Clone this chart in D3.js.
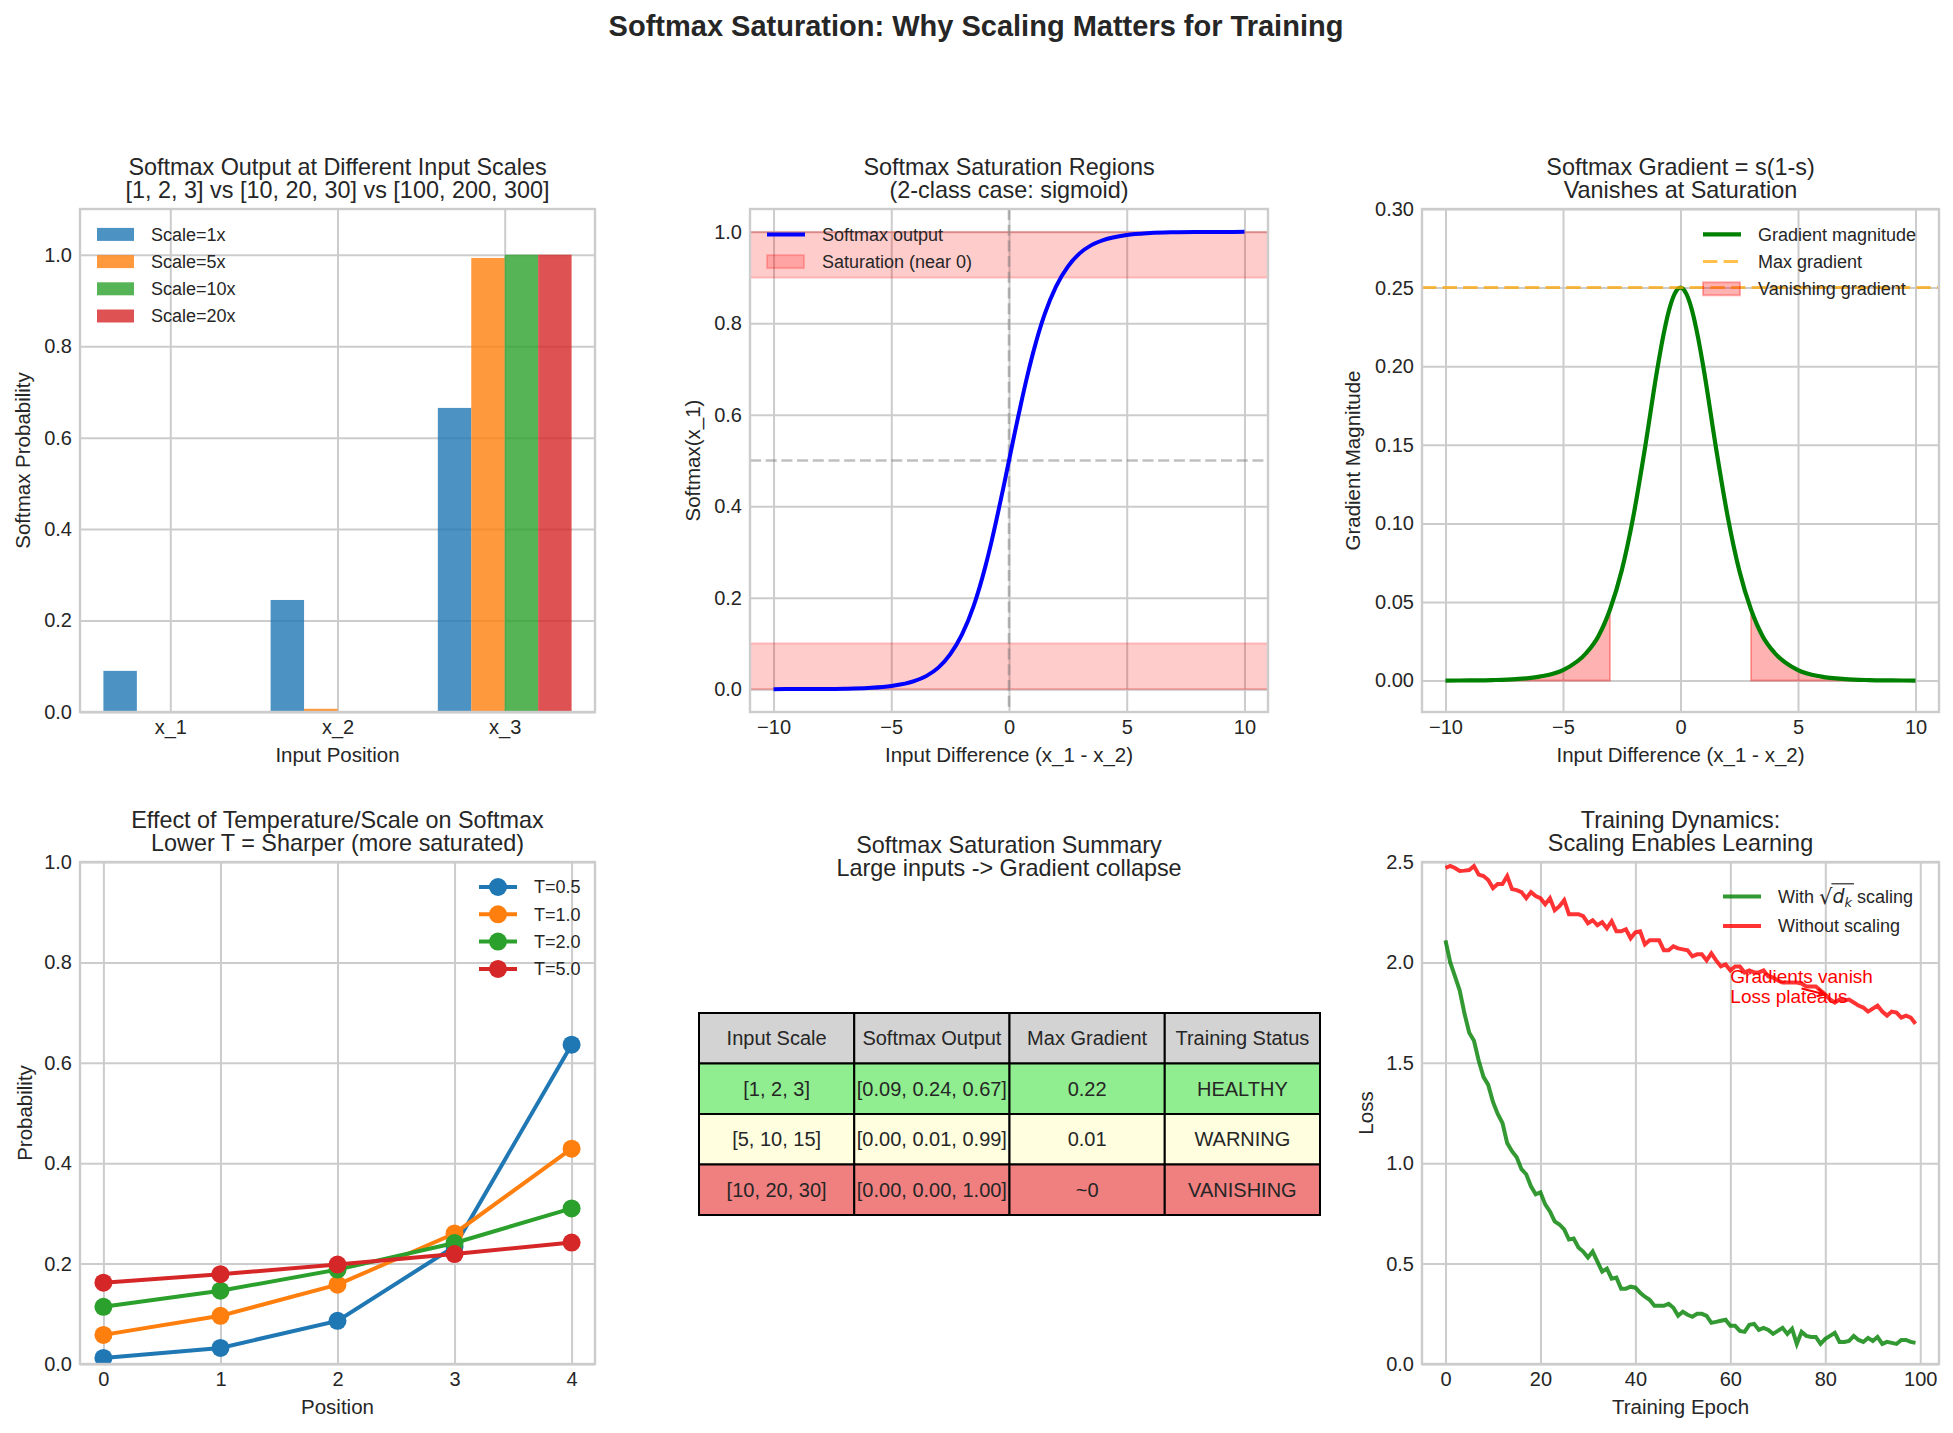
<!DOCTYPE html>
<html>
<head>
<meta charset="utf-8">
<script src="https://cdn.jsdelivr.net/npm/d3@7"></script>
<style>
  body { margin: 0; background: #fff; }
  svg text { font-family: 'Liberation Sans', Arial, sans-serif; fill: #262626; }
</style>
</head>
<body>
<script>
// ---- data ----
const positions = ['x_1', 'x_2', 'x_3']
const scaleNames = ['Scale=1x', 'Scale=5x', 'Scale=10x', 'Scale=20x']
const scaleProbs = [
  [0.090, 0.245, 0.665],
  [0.000, 0.007, 0.993],
  [0.000, 0.000, 1.000],
  [0.000, 0.000, 1.000]
]

const diffX = [-10, -9, -8, -7, -6, -5, -4, -3.5, -3, -2.5, -2, -1.5, -1, -0.75, -0.5, -0.25, 0,
  0.25, 0.5, 0.75, 1, 1.5, 2, 2.5, 3, 3.5, 4, 5, 6, 7, 8, 9, 10]
const sigmoidY = [0.0000, 0.0001, 0.0003, 0.0009, 0.0025, 0.0067, 0.018, 0.029, 0.047, 0.076, 0.119, 0.182,
  0.269, 0.321, 0.378, 0.438, 0.5, 0.562, 0.622, 0.679, 0.731, 0.818, 0.881, 0.924, 0.953, 0.971, 0.982,
  0.9933, 0.9975, 0.9991, 0.9997, 0.9999, 1.0]
const gradY = [0.0000, 0.0001, 0.0003, 0.0009, 0.0025, 0.0066, 0.0177, 0.0281, 0.0452, 0.0701, 0.105, 0.149,
  0.197, 0.218, 0.235, 0.246, 0.25, 0.246, 0.235, 0.218, 0.197, 0.149, 0.105, 0.0701, 0.0452, 0.0281, 0.0177,
  0.0066, 0.0025, 0.0009, 0.0003, 0.0001, 0.0000]
const maxGradient = 0.25
const vanishAt = 3

const tempPositions = [0, 1, 2, 3, 4]
const tempNames = ['T=0.5', 'T=1.0', 'T=2.0', 'T=5.0']
const tempProbs = [
  [0.012, 0.032, 0.086, 0.234, 0.636],
  [0.058, 0.096, 0.158, 0.260, 0.429],
  [0.114, 0.146, 0.188, 0.241, 0.310],
  [0.162, 0.179, 0.198, 0.219, 0.242]
]

const tableHeader = ['Input Scale', 'Softmax Output', 'Max Gradient', 'Training Status']
const tableRows = [
  ['[1, 2, 3]', '[0.09, 0.24, 0.67]', '0.22', 'HEALTHY'],
  ['[5, 10, 15]', '[0.00, 0.01, 0.99]', '0.01', 'WARNING'],
  ['[10, 20, 30]', '[0.00, 0.00, 1.00]', '~0', 'VANISHING']
]

const lossScaled = [2.11, 2.00, 1.93, 1.86, 1.745, 1.65, 1.61, 1.51, 1.43, 1.39,
  1.305, 1.245, 1.20, 1.10, 1.06, 1.03, 0.97, 0.945, 0.885, 0.845,
  0.855, 0.795, 0.76, 0.71, 0.695, 0.67, 0.62, 0.625, 0.58, 0.56,
  0.53, 0.56, 0.51, 0.46, 0.475, 0.425, 0.43, 0.375, 0.375, 0.385,
  0.38, 0.355, 0.335, 0.32, 0.29, 0.29, 0.29, 0.30, 0.28, 0.24,
  0.26, 0.245, 0.235, 0.25, 0.25, 0.24, 0.205, 0.21, 0.215, 0.22,
  0.19, 0.19, 0.165, 0.16, 0.195, 0.20, 0.17, 0.18, 0.17, 0.15,
  0.165, 0.18, 0.15, 0.175, 0.10, 0.16, 0.14, 0.135, 0.135, 0.10,
  0.125, 0.14, 0.155, 0.11, 0.11, 0.115, 0.14, 0.12, 0.11, 0.13,
  0.115, 0.135, 0.10, 0.11, 0.105, 0.10, 0.12, 0.12, 0.11, 0.105]
const lossUnscaled = [2.47, 2.48, 2.47, 2.455, 2.457, 2.46, 2.48, 2.437, 2.43, 2.41,
  2.37, 2.39, 2.39, 2.43, 2.365, 2.36, 2.35, 2.32, 2.35, 2.33,
  2.32, 2.29, 2.32, 2.26, 2.28, 2.31, 2.24, 2.24, 2.24, 2.23,
  2.195, 2.21, 2.185, 2.20, 2.17, 2.205, 2.155, 2.155, 2.165, 2.12,
  2.15, 2.155, 2.09, 2.11, 2.11, 2.11, 2.06, 2.06, 2.08, 2.07,
  2.065, 2.06, 2.03, 2.04, 2.04, 2.01, 2.045, 2.01, 1.98, 1.99,
  1.96, 1.98, 1.98, 1.95, 1.96, 1.95, 1.95, 1.96, 1.93, 1.925,
  1.91, 1.90, 1.90, 1.90, 1.90, 1.895, 1.88, 1.88, 1.88, 1.86,
  1.84, 1.815, 1.80, 1.815, 1.81, 1.815, 1.80, 1.785, 1.775, 1.755,
  1.77, 1.785, 1.755, 1.735, 1.755, 1.75, 1.725, 1.735, 1.725, 1.695]

// tick labels
const probTicks = [0, 0.2, 0.4, 0.6, 0.8, 1.0]
const diffTicks = [-10, -5, 0, 5, 10]
const gradTicks = [0, 0.05, 0.10, 0.15, 0.20, 0.25, 0.30]
const epochTicks = [0, 20, 40, 60, 80, 100]
const lossTicks = [0, 0.5, 1.0, 1.5, 2.0, 2.5]

// ---- styles ----
const tab = ['#1f77b4', '#ff7f0e', '#2ca02c', '#d62728']
const rowFills = ['#d3d3d3', '#90ee90', '#ffffe0', '#f08080']
const TICK = 20, LABEL = 20.5, LEG = 18

const svg = d3.select('body').append('svg').attr('width', 1953).attr('height', 1433)
const defs = svg.append('defs')

svg.append('text').attr('x', 976).attr('y', 36).attr('text-anchor', 'middle')
  .attr('font-size', 29).attr('font-weight', 'bold')
  .text('Softmax Saturation: Why Scaling Matters for Training')

let clipN = 0
function makePanel(o) {
  let x = d3.scaleLinear().domain(o.xDomain).range([o.left, o.right])
  let y = d3.scaleLinear().domain(o.yDomain).range([o.bottom, o.top])
  let w = o.right - o.left, h = o.bottom - o.top
  let g = svg.append('g')

  let xa = g.append('g').attr('transform', `translate(0,${o.bottom})`)
    .call(d3.axisBottom(x).tickValues(o.xTicks).tickFormat(o.xFormat).tickSize(-h).tickPadding(8))
  let ya = g.append('g').attr('transform', `translate(${o.left},0)`)
    .call(d3.axisLeft(y).tickValues(o.yTicks).tickFormat(o.yFormat).tickSize(-w).tickPadding(8))
  for (let a of [xa, ya]) {
    a.attr('font-family', null).attr('font-size', TICK).attr('color', '#262626')
    a.select('.domain').remove()
    a.selectAll('.tick line').attr('stroke', '#cccccc').attr('stroke-width', 2)
  }

  o.title.forEach((t, i) => {
    g.append('text').attr('x', (o.left + o.right) / 2).attr('y', o.titleY + i * 23.3)
      .attr('text-anchor', 'middle').attr('font-size', 23.4).text(t)
  })
  g.append('text').attr('x', (o.left + o.right) / 2).attr('y', o.bottom + 50)
    .attr('text-anchor', 'middle').attr('font-size', LABEL).text(o.xLabel)
  g.append('text')
    .attr('transform', `translate(${o.left - o.yGap},${(o.top + o.bottom) / 2}) rotate(-90)`)
    .attr('text-anchor', 'middle').attr('font-size', LABEL).text(o.yLabel)

  let id = 'clip' + (clipN++)
  defs.append('clipPath').attr('id', id).append('rect')
    .attr('x', o.left).attr('y', o.top).attr('width', w).attr('height', h)
  let plot = g.append('g').attr('clip-path', `url(#${id})`)
  g.append('rect').attr('x', o.left).attr('y', o.top).attr('width', w).attr('height', h)
    .attr('fill', 'none').attr('stroke', '#cccccc').attr('stroke-width', 2.4)
  let legend = g.append('g').attr('font-size', LEG)
  return {x, y, plot, legend}
}

// items: {label, type: 'line'|'patch', color, width, dash, marker, opacity}
function drawLegend(layer, items, x0, y0, step, textGap) {
  items.forEach((it, i) => {
    let cy = y0 + i * step
    if (it.type === 'patch') {
      layer.append('rect').attr('x', x0).attr('y', cy - 6.5).attr('width', 37).attr('height', 13)
        .attr('fill', it.color).attr('fill-opacity', it.opacity)
        .attr('stroke', it.noEdge ? 'none' : it.color).attr('stroke-opacity', it.opacity).attr('stroke-width', 2)
    } else {
      layer.append('line').attr('x1', x0).attr('x2', x0 + 38).attr('y1', cy).attr('y2', cy)
        .attr('stroke', it.color).attr('stroke-width', it.width).attr('stroke-opacity', it.opacity || 1)
        .attr('stroke-dasharray', it.dash || null)
      if (it.marker) layer.append('circle').attr('cx', x0 + 19).attr('cy', cy).attr('r', 9).attr('fill', it.color)
    }
    if (it.label) layer.append('text').attr('x', x0 + textGap).attr('y', cy).attr('dy', '0.35em').text(it.label)
  })
}

const row1 = {top: 209, bottom: 712}, row2 = {top: 862, bottom: 1364}
const col1 = {left: 80, right: 595}, col2 = {left: 750, right: 1268}, col3 = {left: 1422, right: 1939}

// ---- 1. bar chart ----
{
  let p = makePanel({...col1, ...row1, xDomain: [-0.54, 2.54], yDomain: [0, 1.1],
    xTicks: [0, 1, 2], xFormat: i => positions[i], yTicks: probTicks, yFormat: d3.format('.1f'),
    title: ['Softmax Output at Different Input Scales', '[1, 2, 3] vs [10, 20, 30] vs [100, 200, 300]'],
    titleY: 175, xLabel: 'Input Position', yLabel: 'Softmax Probability', yGap: 50})
  let bw = 0.2
  scaleProbs.forEach((vals, k) => {
    p.plot.append('g').selectAll('rect').data(vals).join('rect')
      .attr('x', (d, i) => p.x(i + (k - 1.5) * bw - bw / 2))
      .attr('width', (d, i) => p.x(i + (k - 1.5) * bw + bw / 2) - p.x(i + (k - 1.5) * bw - bw / 2))
      .attr('y', d => p.y(d))
      .attr('height', d => p.y(0) - p.y(d))
      .attr('fill', tab[k]).attr('fill-opacity', 0.8)
  })
  drawLegend(p.legend, scaleNames.map((s, k) => ({label: s, type: 'patch', color: tab[k], opacity: 0.8, noEdge: true})),
    col1.left + 17, 234.4, 27.2, 54)
}

// ---- 2. sigmoid ----
{
  let p = makePanel({...col2, ...row1, xDomain: [-11, 11], yDomain: [-0.05, 1.05],
    xTicks: diffTicks, xFormat: d3.format('d'), yTicks: probTicks, yFormat: d3.format('.1f'),
    title: ['Softmax Saturation Regions', '(2-class case: sigmoid)'],
    titleY: 175, xLabel: 'Input Difference (x_1 - x_2)', yLabel: 'Softmax(x_1)', yGap: 50})
  for (let band of [[0.9, 1.0], [0, 0.1]]) {
    p.plot.append('rect').attr('x', col2.left).attr('width', col2.right - col2.left)
      .attr('y', p.y(band[1])).attr('height', p.y(band[0]) - p.y(band[1]))
      .attr('fill', 'red').attr('fill-opacity', 0.2)
      .attr('stroke', 'red').attr('stroke-opacity', 0.2).attr('stroke-width', 2)
  }
  p.plot.append('line').attr('x1', p.x(0)).attr('x2', p.x(0)).attr('y1', row1.top).attr('y2', row1.bottom)
    .attr('stroke', 'gray').attr('stroke-opacity', 0.5).attr('stroke-width', 2.6).attr('stroke-dasharray', '11 4.7')
  p.plot.append('line').attr('x1', col2.left).attr('x2', col2.right).attr('y1', p.y(0.5)).attr('y2', p.y(0.5))
    .attr('stroke', 'gray').attr('stroke-opacity', 0.5).attr('stroke-width', 2.6).attr('stroke-dasharray', '11 4.7')
  let line = d3.line().x((d, i) => p.x(diffX[i])).y(d => p.y(d)).curve(d3.curveMonotoneX)
  p.plot.append('path').attr('d', line(sigmoidY)).attr('fill', 'none')
    .attr('stroke', 'blue').attr('stroke-width', 4)
  drawLegend(p.legend, [
    {label: 'Softmax output', type: 'line', color: 'blue', width: 4},
    {label: 'Saturation (near 0)', type: 'patch', color: 'red', opacity: 0.2}
  ], col2.left + 17, 234.4, 27.2, 55)
}

// ---- 3. gradient ----
{
  let p = makePanel({...col3, ...row1, xDomain: [-11, 11], yDomain: [-0.02, 0.3],
    xTicks: diffTicks, xFormat: d3.format('d'), yTicks: gradTicks, yFormat: d3.format('.2f'),
    title: ['Softmax Gradient = s(1-s)', 'Vanishes at Saturation'],
    titleY: 175, xLabel: 'Input Difference (x_1 - x_2)', yLabel: 'Gradient Magnitude', yGap: 62})
  let pts = diffX.map((xv, i) => ({x: xv, g: gradY[i]}))
  let area = d3.area().x(d => p.x(d.x)).y0(p.y(0)).y1(d => p.y(d.g)).curve(d3.curveMonotoneX)
  for (let part of [pts.filter(d => d.x <= -vanishAt), pts.filter(d => d.x >= vanishAt)]) {
    p.plot.append('path').attr('d', area(part) + 'Z')
      .attr('fill', 'red').attr('fill-opacity', 0.3)
      .attr('stroke', 'red').attr('stroke-opacity', 0.3).attr('stroke-width', 2)
  }
  let line = d3.line().x(d => p.x(d.x)).y(d => p.y(d.g)).curve(d3.curveMonotoneX)
  p.plot.append('path').attr('d', line(pts)).attr('fill', 'none')
    .attr('stroke', 'green').attr('stroke-width', 4.2)
  p.plot.append('line').attr('x1', col3.left).attr('x2', col3.right)
    .attr('y1', p.y(maxGradient)).attr('y2', p.y(maxGradient))
    .attr('stroke', 'orange').attr('stroke-opacity', 0.7).attr('stroke-width', 3).attr('stroke-dasharray', '14.4 6.2')
  drawLegend(p.legend, [
    {label: 'Gradient magnitude', type: 'line', color: 'green', width: 4.2},
    {label: 'Max gradient', type: 'line', color: 'orange', width: 3, opacity: 0.7, dash: '14.4 6.2'},
    {label: 'Vanishing gradient', type: 'patch', color: 'red', opacity: 0.3}
  ], 1703, 234.4, 27.2, 55)
}

// ---- 4. temperature ----
{
  let p = makePanel({...col1, ...row2, xDomain: [-0.2, 4.2], yDomain: [0, 1],
    xTicks: tempPositions, xFormat: d3.format('d'), yTicks: probTicks, yFormat: d3.format('.1f'),
    title: ['Effect of Temperature/Scale on Softmax', 'Lower T = Sharper (more saturated)'],
    titleY: 828, xLabel: 'Position', yLabel: 'Probability', yGap: 48})
  let line = d3.line().x((d, i) => p.x(tempPositions[i])).y(d => p.y(d))
  tempProbs.forEach((vals, k) => {
    let s = p.plot.append('g')
    s.append('path').attr('d', line(vals)).attr('fill', 'none').attr('stroke', tab[k]).attr('stroke-width', 4)
    s.selectAll('circle').data(vals).join('circle')
      .attr('cx', (d, i) => p.x(tempPositions[i])).attr('cy', d => p.y(d)).attr('r', 9).attr('fill', tab[k])
  })
  drawLegend(p.legend, tempNames.map((t, k) => ({label: t, type: 'line', color: tab[k], width: 4, marker: true})),
    479, 887, 27.3, 55)
}

// ---- 5. table ----
{
  let cx = (col2.left + col2.right) / 2
  ;['Softmax Saturation Summary', 'Large inputs -> Gradient collapse'].forEach((t, i) => {
    svg.append('text').attr('x', cx).attr('y', 853 + i * 23.3).attr('text-anchor', 'middle')
      .attr('font-size', 23.4).text(t)
  })
  let cols = d3.scaleBand().domain(d3.range(tableHeader.length)).range([699, 1320])
  let rows = d3.scaleBand().domain(d3.range(tableRows.length + 1)).range([1013, 1215])
  let all = [tableHeader, ...tableRows]
  let tg = svg.append('g')
  all.forEach((r, ri) => {
    r.forEach((txt, ci) => {
      tg.append('rect').attr('x', cols(ci)).attr('y', rows(ri))
        .attr('width', cols.bandwidth()).attr('height', rows.bandwidth())
        .attr('fill', rowFills[ri]).attr('stroke', 'black').attr('stroke-width', 2)
      tg.append('text').attr('x', cols(ci) + cols.bandwidth() / 2).attr('y', rows(ri) + rows.bandwidth() / 2)
        .attr('dy', '0.35em').attr('text-anchor', 'middle').attr('font-size', 20).text(txt)
    })
  })
}

// ---- 6. training dynamics ----
{
  let p = makePanel({...col3, ...row2, xDomain: [-4.95, 103.95], yDomain: [0, 2.5],
    xTicks: epochTicks, xFormat: d3.format('d'), yTicks: lossTicks, yFormat: d3.format('.1f'),
    title: ['Training Dynamics:', 'Scaling Enables Learning'],
    titleY: 828, xLabel: 'Training Epoch', yLabel: 'Loss', yGap: 49})
  let line = d3.line().x((d, i) => p.x(i)).y(d => p.y(d))
  p.plot.append('path').attr('d', line(lossScaled)).attr('fill', 'none')
    .attr('stroke', 'green').attr('stroke-opacity', 0.8).attr('stroke-width', 4)
  p.plot.append('path').attr('d', line(lossUnscaled)).attr('fill', 'none')
    .attr('stroke', 'red').attr('stroke-opacity', 0.8).attr('stroke-width', 4)

  // annotation
  let ax = p.x(60), ay = p.y(1.8)
  let ann = p.legend.append('g').attr('font-size', 19)
  ann.append('text').attr('x', ax).attr('y', ay - 19.7).style('fill', 'red').text('Gradients vanish')
  ann.append('text').attr('x', ax).attr('y', ay).style('fill', 'red').text('Loss plateaus')
  let tipX = p.x(80), tipY = p.y(lossUnscaled[80])
  let fromX = p.x(75), fromY = p.y(1.87)
  let ang = Math.atan2(tipY - fromY, tipX - fromX)
  ann.append('line').attr('x1', fromX).attr('y1', fromY).attr('x2', tipX).attr('y2', tipY)
    .attr('stroke', 'red').attr('stroke-width', 2)
  let hl = 9
  ann.append('path').attr('fill', 'none').attr('stroke', 'red').attr('stroke-width', 2)
    .attr('d', `M${tipX - hl * Math.cos(ang - 0.45)},${tipY - hl * Math.sin(ang - 0.45)}L${tipX},${tipY}` +
      `L${tipX - hl * Math.cos(ang + 0.45)},${tipY - hl * Math.sin(ang + 0.45)}`)

  drawLegend(p.legend, [
    {label: null, type: 'line', color: 'green', width: 4, opacity: 0.8},
    {label: 'Without scaling', type: 'line', color: 'red', width: 4, opacity: 0.8}
  ], 1723, 896.5, 29.5, 55)

  // "With sqrt(d_k) scaling" label
  let t = p.legend.append('text').attr('x', 1778).attr('y', 896.5).attr('dy', '0.35em')
  t.append('tspan').text('With ')
  t.append('tspan').attr('font-family', 'DejaVu Sans').attr('font-size', 21).attr('dy', 1).text('\u221A')
  t.append('tspan').attr('font-style', 'italic').attr('font-family', 'DejaVu Sans').attr('font-size', 19).attr('dy', -1).text('d')
  t.append('tspan').attr('font-style', 'italic').attr('font-family', 'DejaVu Sans').attr('font-size', 13).attr('dy', 4).text('k')
  t.append('tspan').attr('dy', -4).text(' scaling')
  let node = t.node()
  let x1 = node.getEndPositionOfChar(5).x, x2 = node.getEndPositionOfChar(7).x + 2
  let oy = 896.5 + 6.3 - 19
  p.legend.append('line').attr('x1', x1 - 1).attr('x2', x2).attr('y1', oy).attr('y2', oy)
    .attr('stroke', '#262626').attr('stroke-width', 1.2)
}
</script>
</body>
</html>
